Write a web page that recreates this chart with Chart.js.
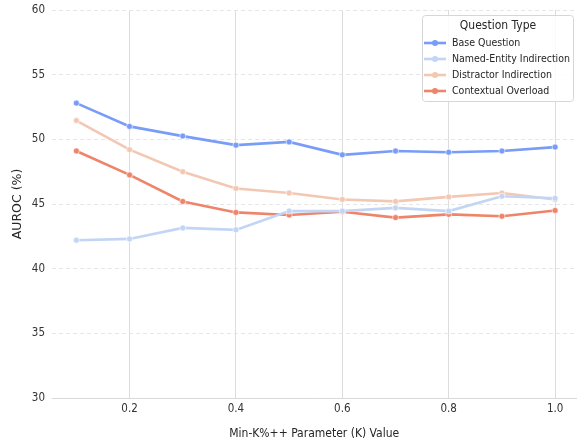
<!DOCTYPE html>
<html><head><meta charset="utf-8">
<script src="https://cdn.jsdelivr.net/npm/chart.js@4.4.0/dist/chart.umd.min.js"></script>
<style>html,body{margin:0;padding:0;background:#fff}#w{width:580px;height:441px}</style>
</head><body><div id="w"><canvas id="c"></canvas></div>
<script>
const kValues = [0.1,0.2,0.3,0.4,0.5,0.6,0.7,0.8,0.9,1.0];
const baseQuestion = [52.8,51.0,50.25,49.55,49.8,48.8,49.1,49.0,49.1,49.4];
const namedEntity = [42.2,42.3,43.15,43.0,44.45,44.45,44.7,44.45,45.6,45.45];
const distractor = [51.45,49.2,47.5,46.2,45.85,45.35,45.2,45.55,45.85,45.35];
const contextual = [49.1,47.25,45.2,44.35,44.15,44.4,43.95,44.2,44.05,44.5];
const seriesNames = ['Base Question','Named-Entity Indirection','Distractor Indirection','Contextual Overload'];
const seriesColors = ['#789cf7','#c2d5f5','#f3c8b3','#ee8469'];
const xTicks = [0.2,0.4,0.6,0.8,1.0];
const yTicks = [30,35,40,45,50,55,60];
const FONT = "'DejaVu Sans Condensed', 'DejaVu Sans', sans-serif";
const FONT_R = "'DejaVu Sans', sans-serif";
const allSeries = [baseQuestion, namedEntity, distractor, contextual];
const datasets = allSeries.map((vals,i)=>({
  label: seriesNames[i],
  data: kValues.map((k,j)=>({x:k,y:vals[j]})),
  borderColor: seriesColors[i],
  backgroundColor: seriesColors[i],
  borderWidth: 2.6,
  pointRadius: 3,
  pointBorderColor: '#ffffff',
  pointBorderWidth: 0.6,
  pointHoverRadius: 3,
  tension: 0
}));
const legendBox = {
  id:'legendBox',
  afterDraw(chart){
    const ctx = chart.ctx;
    const x0=422.5, y0=15.5, w=151, h=86;
    ctx.save();
    ctx.fillStyle='rgba(255,255,255,0.85)';
    ctx.strokeStyle='#d6d6d6';
    ctx.lineWidth=1;
    ctx.beginPath();
    if(ctx.roundRect) ctx.roundRect(x0,y0,w,h,3); else ctx.rect(x0,y0,w,h);
    ctx.fill(); ctx.stroke();
    ctx.fillStyle='#262626';
    ctx.font = "12px "+FONT;
    ctx.textAlign='center'; ctx.textBaseline='middle';
    ctx.fillText('Question Type', x0+w/2, y0+10.5);
    ctx.font = "10.5px "+FONT;
    ctx.textAlign='left';
    seriesNames.forEach((n,i)=>{
      const yy = y0+27.5+i*16;
      ctx.strokeStyle=seriesColors[i]; ctx.lineWidth=2.6;
      ctx.beginPath(); ctx.moveTo(x0+1.5,yy); ctx.lineTo(x0+23.5,yy); ctx.stroke();
      ctx.fillStyle=seriesColors[i];
      ctx.beginPath(); ctx.arc(x0+12.5,yy,3,0,Math.PI*2); ctx.fill();
      ctx.fillStyle='#262626';
      ctx.fillText(n, x0+29.5, yy+0.5);
    });
    ctx.restore();
  }
};
new Chart(document.getElementById('c'),{
  type:'line',
  data:{datasets},
  options:{
    responsive:true, maintainAspectRatio:false, animation:false,
    layout:{padding:{top:10,right:0,left:0,bottom:0}},
    plugins:{legend:{display:false},tooltip:{enabled:false}},
    scales:{
      x:{type:'linear',min:0.0542,max:1.040,
        afterBuildTicks(s){s.ticks = xTicks.map(v=>({value:v}));},
        afterFit(s){s.height=43; s.paddingLeft=0; s.paddingRight=0;},
        ticks:{color:'#333',font:{family:FONT,size:11.5},padding:4,callback:v=>v.toFixed(1),maxRotation:0},
        grid:{color:'#dcdcdc',lineWidth:1,drawTicks:false},
        border:{display:true,color:'#d9d9d9'},
        title:{display:true,text:'Min-K%++ Parameter (K) Value',color:'#262626',font:{family:FONT,size:12},padding:{top:3,bottom:0}}
      },
      y:{type:'linear',min:30,max:60,
        afterBuildTicks(s){s.ticks = yTicks.map(v=>({value:v}));},
        afterFit(s){s.width=52; s.paddingTop=0; s.paddingBottom=0;},
        ticks:{color:'#333',font:{family:FONT,size:11.5},padding:7},
        grid:{color:'#e6e6e6',lineWidth:1,drawTicks:false},
        border:{display:false,dash:[4,3]},
        title:{display:true,text:'AUROC (%)',color:'#262626',font:{family:FONT_R,size:12.5},padding:{top:10,bottom:0}}
      }
    }
  },
  plugins:[legendBox]
});
</script></body></html>
